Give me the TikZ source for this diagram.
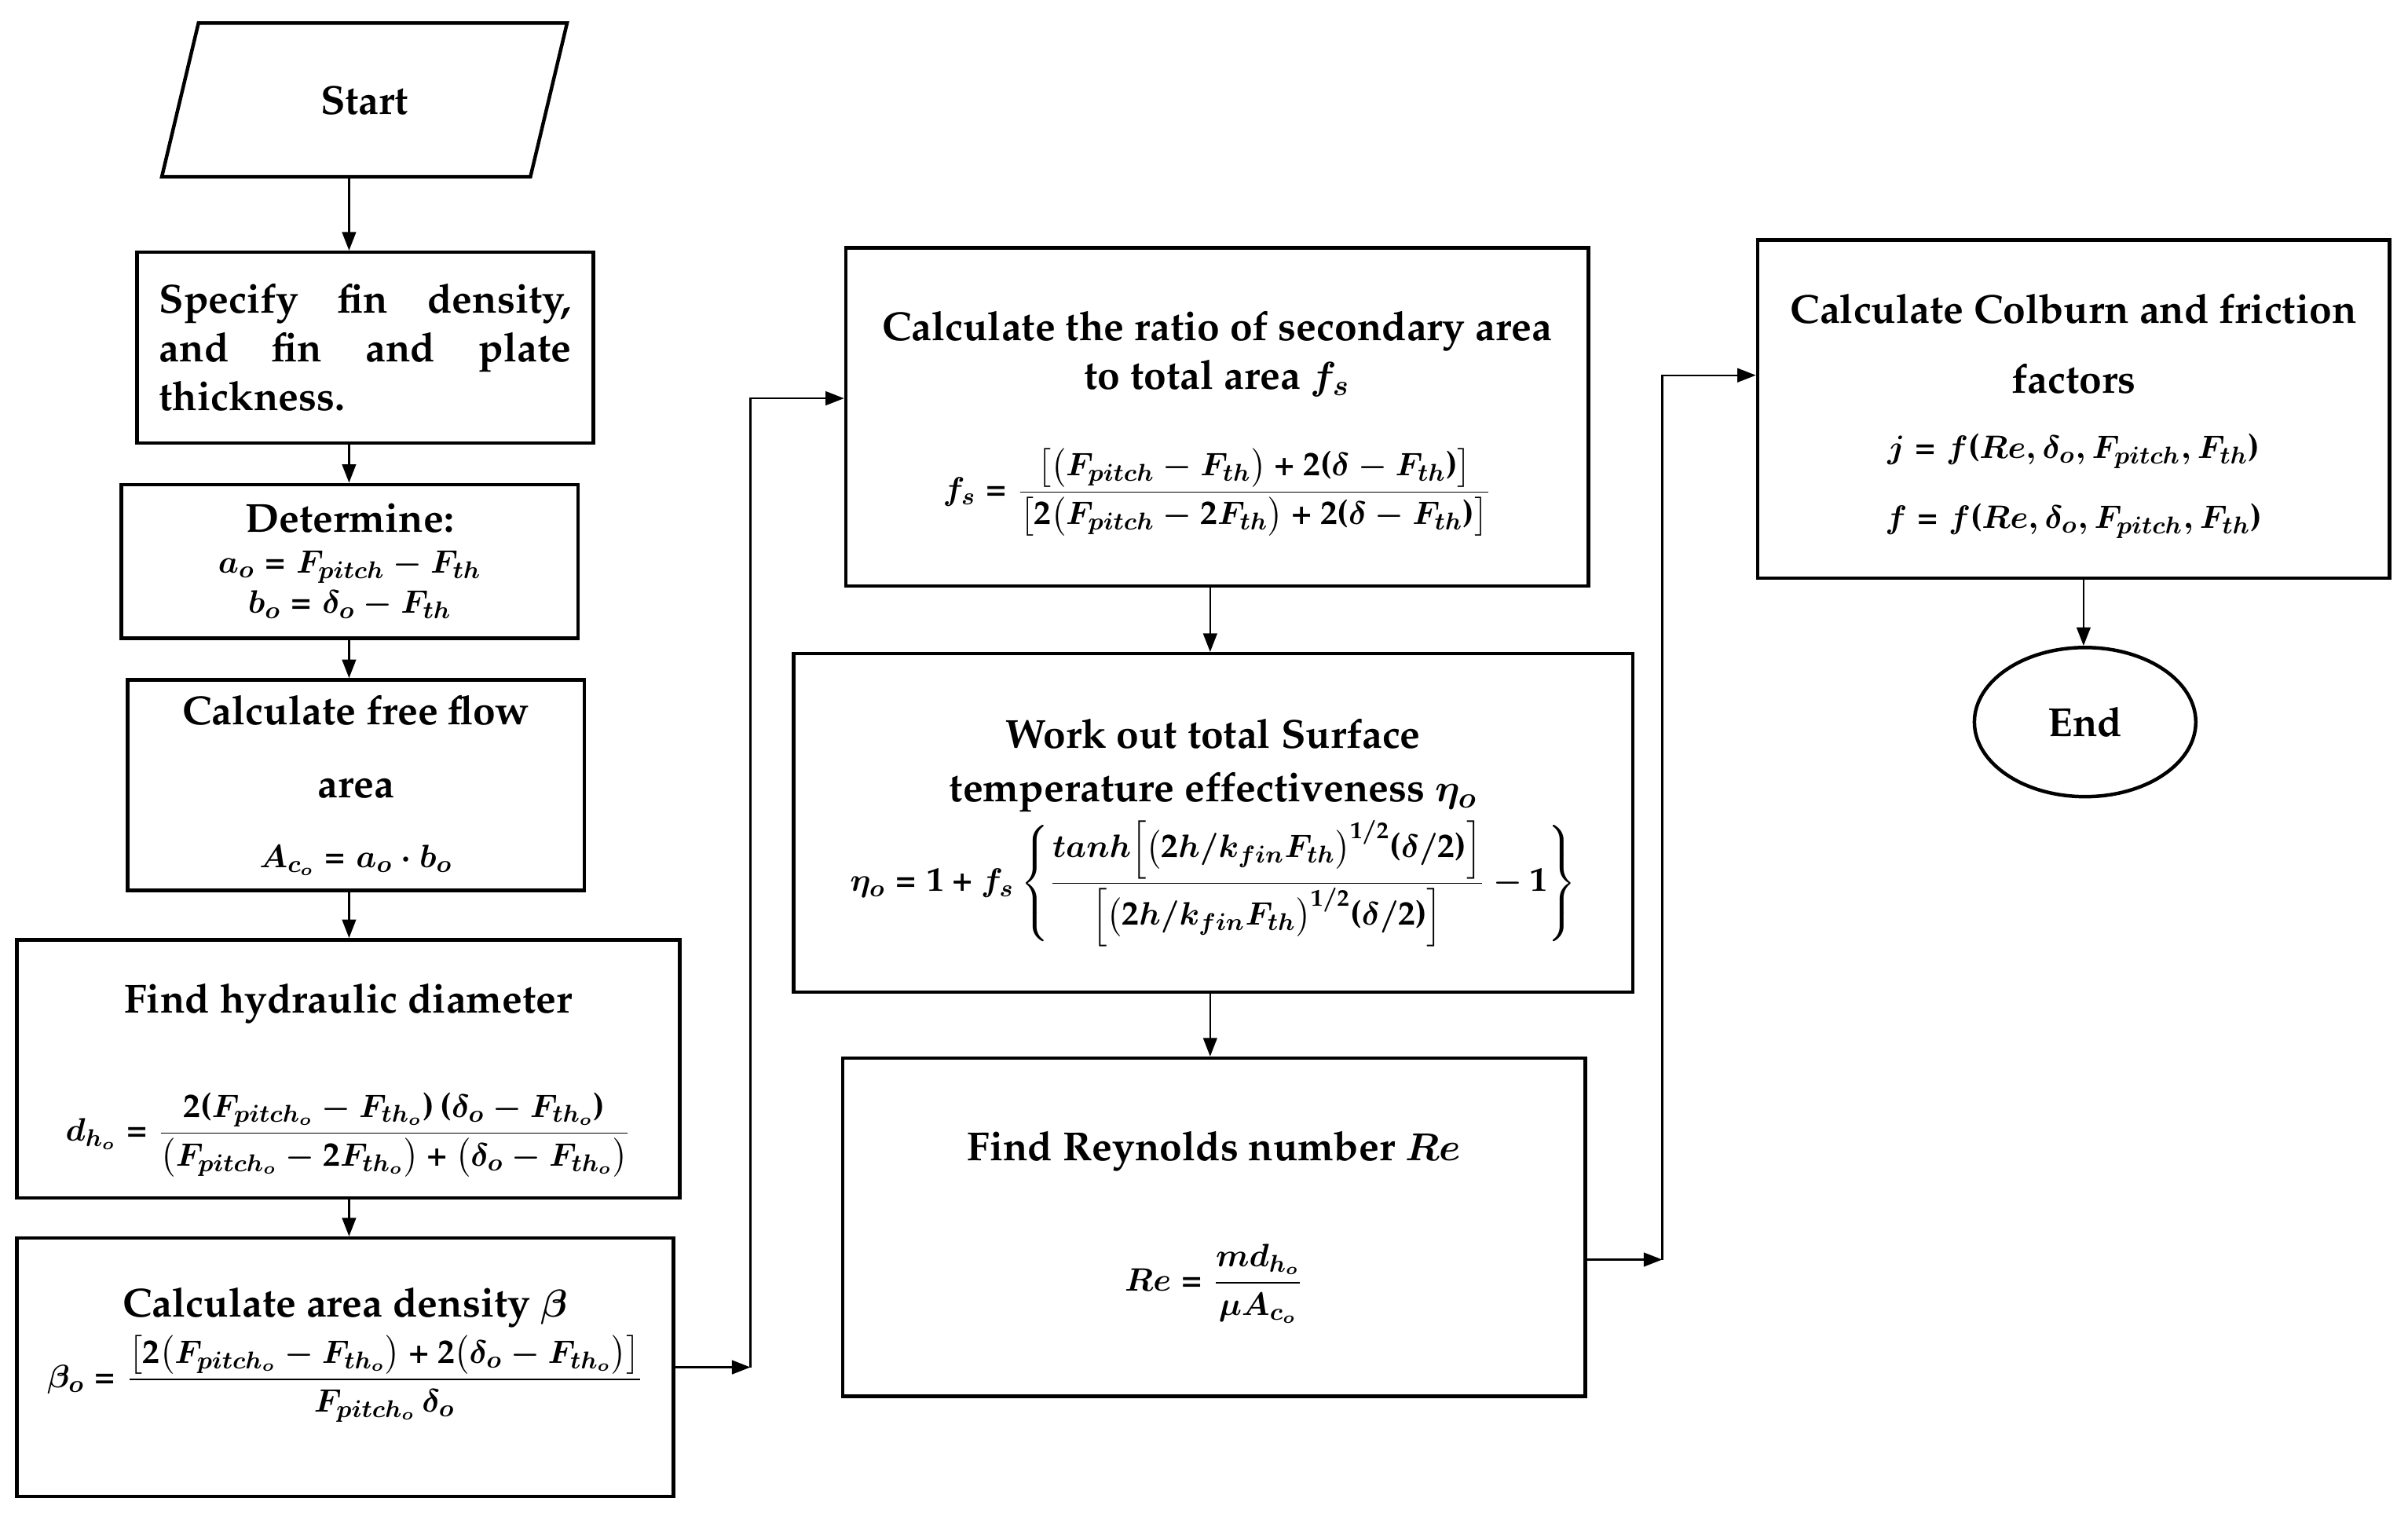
\documentclass[tikz,border=0pt]{standalone}
\usepackage[T1]{fontenc}
\usepackage{amsmath}
\usepackage{tikz}
\usetikzlibrary{
    shapes.geometric,
    arrows.meta,
    positioning
}
\renewcommand{\rmdefault}{ppl}
% heavy math everywhere
\DeclareSymbolFont{operators}{T1}{ppl}{b}{n}
\DeclareSymbolFont{letters}{OML}{cmm}{b}{it}
\DeclareSymbolFont{symbols}{OMS}{cmsy}{b}{n}
\newcommand{\eqsize}{\fontsize{12.6}{16}\selectfont}

\begin{document}
\begin{tikzpicture}[x=0.02cm, y=-0.02cm, >={Triangle[length=0.24cm,width=0.18cm]}]
    \tikzstyle{every node}=[font=\fontsize{15}{18}\selectfont\bfseries]
    \tikzstyle{process}=[draw, line width=1.3pt, rectangle, align=center, inner sep=0pt]
    \tikzstyle{line}=[line width=0.7pt]
    \useasboundingbox (0,0) rectangle (1566,988);
    % left column
    \node [draw, line width=1.3pt, trapezium, trapezium left angle=76, trapezium right angle=104,
           trapezium stretches=true, minimum width=5.28cm, minimum height=2cm] (start) at (237,65) {Start};
    \node [process, minimum width=5.94cm, minimum height=2.48cm, align=left, text width=5.36cm] (spec) at (237.5,226)
        {\makebox[5.36cm]{Specify\hfill fin\hfill density,}\\ \makebox[5.36cm]{and\hfill fin\hfill and\hfill plate}\\ thickness.};
    \node [process, minimum width=5.94cm, minimum height=2cm] (determ) at (227.5,365)
        {Determine:\\[-3pt] \eqsize $a_o = F_{pitch} - F_{th}$\\[-3pt] \eqsize $b_o = \delta_o - F_{th}$};
    \node [process, minimum width=5.94cm, minimum height=2.74cm] (freeflow) at (231.5,510.5)
        {Calculate free flow\\[9pt] area\\[8pt] \eqsize $A_{c_o} = a_o \cdot b_o$};
    \node [process, minimum width=8.62cm, minimum height=3.36cm] (hydro) at (226.5,695)
        {\rule{0pt}{19.5pt}Find hydraulic diameter\\[24.5pt]
         \eqsize $\displaystyle d_{h_o} = \frac{2(F_{pitch_o} - F_{th_o})\,(\delta_o - F_{th_o})}{\bigl(F_{pitch_o} - 2F_{th_o}\bigr) + \bigl(\delta_o - F_{th_o}\bigr)}$};
    \node [process, minimum width=8.54cm, minimum height=3.36cm] (density) at (224.5,889)
        {Calculate area density $\beta$\\[2pt]
         \eqsize $\displaystyle \beta_o = \frac{\bigl[2\bigl(F_{pitch_o} - F_{th_o}\bigr) + 2\bigl(\delta_o - F_{th_o}\bigr)\bigr]}{F_{pitch_o}\,\delta_o}$\rule[-22pt]{0pt}{1pt}};
    % middle column
    \node [process, minimum width=9.66cm, minimum height=4.4cm] (ratio) at (791.5,271)
        {\rule{0pt}{16pt}Calculate the ratio of secondary area\\ to total area $f_s$\\[18pt]
         \eqsize $\displaystyle f_s = \frac{\bigl[\bigl(F_{pitch} - F_{th}\bigr) + 2(\delta - F_{th})\bigr]}{\bigl[2\bigl(F_{pitch} - 2F_{th}\bigr) + 2(\delta - F_{th})\bigr]}$};
    \node [process, minimum width=10.92cm, minimum height=4.4cm] (surface) at (789,535)
        {\rule{0pt}{18pt}Work out total Surface\\[2pt] temperature effectiveness $\eta_o$\\[2pt]
         \eqsize $\displaystyle \eta_o = 1 + f_s\left\{\frac{tanh\Bigl[\bigl(2h/k_{fin}F_{th}\bigr)^{1/2}(\delta/2)\Bigr]}{\Bigl[\bigl(2h/k_{fin}F_{th}\bigr)^{1/2}(\delta/2)\Bigr]} - 1\right\}$};
    \node [process, minimum width=9.66cm, minimum height=4.4cm] (reynolds) at (789.5,798)
        {Find Reynolds number $Re$\\[26pt]
         \eqsize $\displaystyle Re = \frac{md_{h_o}}{\mu A_{c_o}}$};
    % right column
    \node [process, minimum width=8.22cm, minimum height=4.4cm] (colburn) at (1348.5,266)
        {\rule{0pt}{16pt}Calculate Colburn and friction\\[8pt] factors\\[6pt]
         \eqsize $j = f(Re, \delta_o, F_{pitch}, F_{th})$\\[8pt]
         \eqsize $f = f(Re, \delta_o, F_{pitch}, F_{th})$};
    \node [draw, line width=1.3pt, ellipse, minimum width=2.88cm, minimum height=1.94cm] (endnode) at (1356,469.5) {End};
    % connectors
    \coordinate (colL) at (227,0);
    \coordinate (colM) at (787,0);
    \coordinate (colR) at (1355,0);
    \coordinate (jL) at (488,889);
    \coordinate (jLtop) at (488,259);
    \coordinate (jR) at (1081,819);
    \coordinate (jRtop) at (1081,244);
    \draw [line,->] (start.south -| colL) -- (spec.north -| colL);
    \draw [line,->] (spec.south -| colL) -- (determ.north -| colL);
    \draw [line,->] (determ.south -| colL) -- (freeflow.north -| colL);
    \draw [line,->] (freeflow.south -| colL) -- (hydro.north -| colL);
    \draw [line,->] (hydro.south -| colL) -- (density.north -| colL);
    \draw [line,->] (density.east |- jL) -- (jL);
    \draw [line,->] (jL) -- (jLtop) -- (jLtop -| ratio.west);
    \draw [line,->] (ratio.south -| colM) -- (surface.north -| colM);
    \draw [line,->] (surface.south -| colM) -- (reynolds.north -| colM);
    \draw [line,->] (reynolds.east |- jR) -- (jR);
    \draw [line,->] (jR) -- (jRtop) -- (jRtop -| colburn.west);
    \draw [line,->] (colburn.south -| colR) -- (endnode.north -| colR);
\end{tikzpicture}
\end{document}
